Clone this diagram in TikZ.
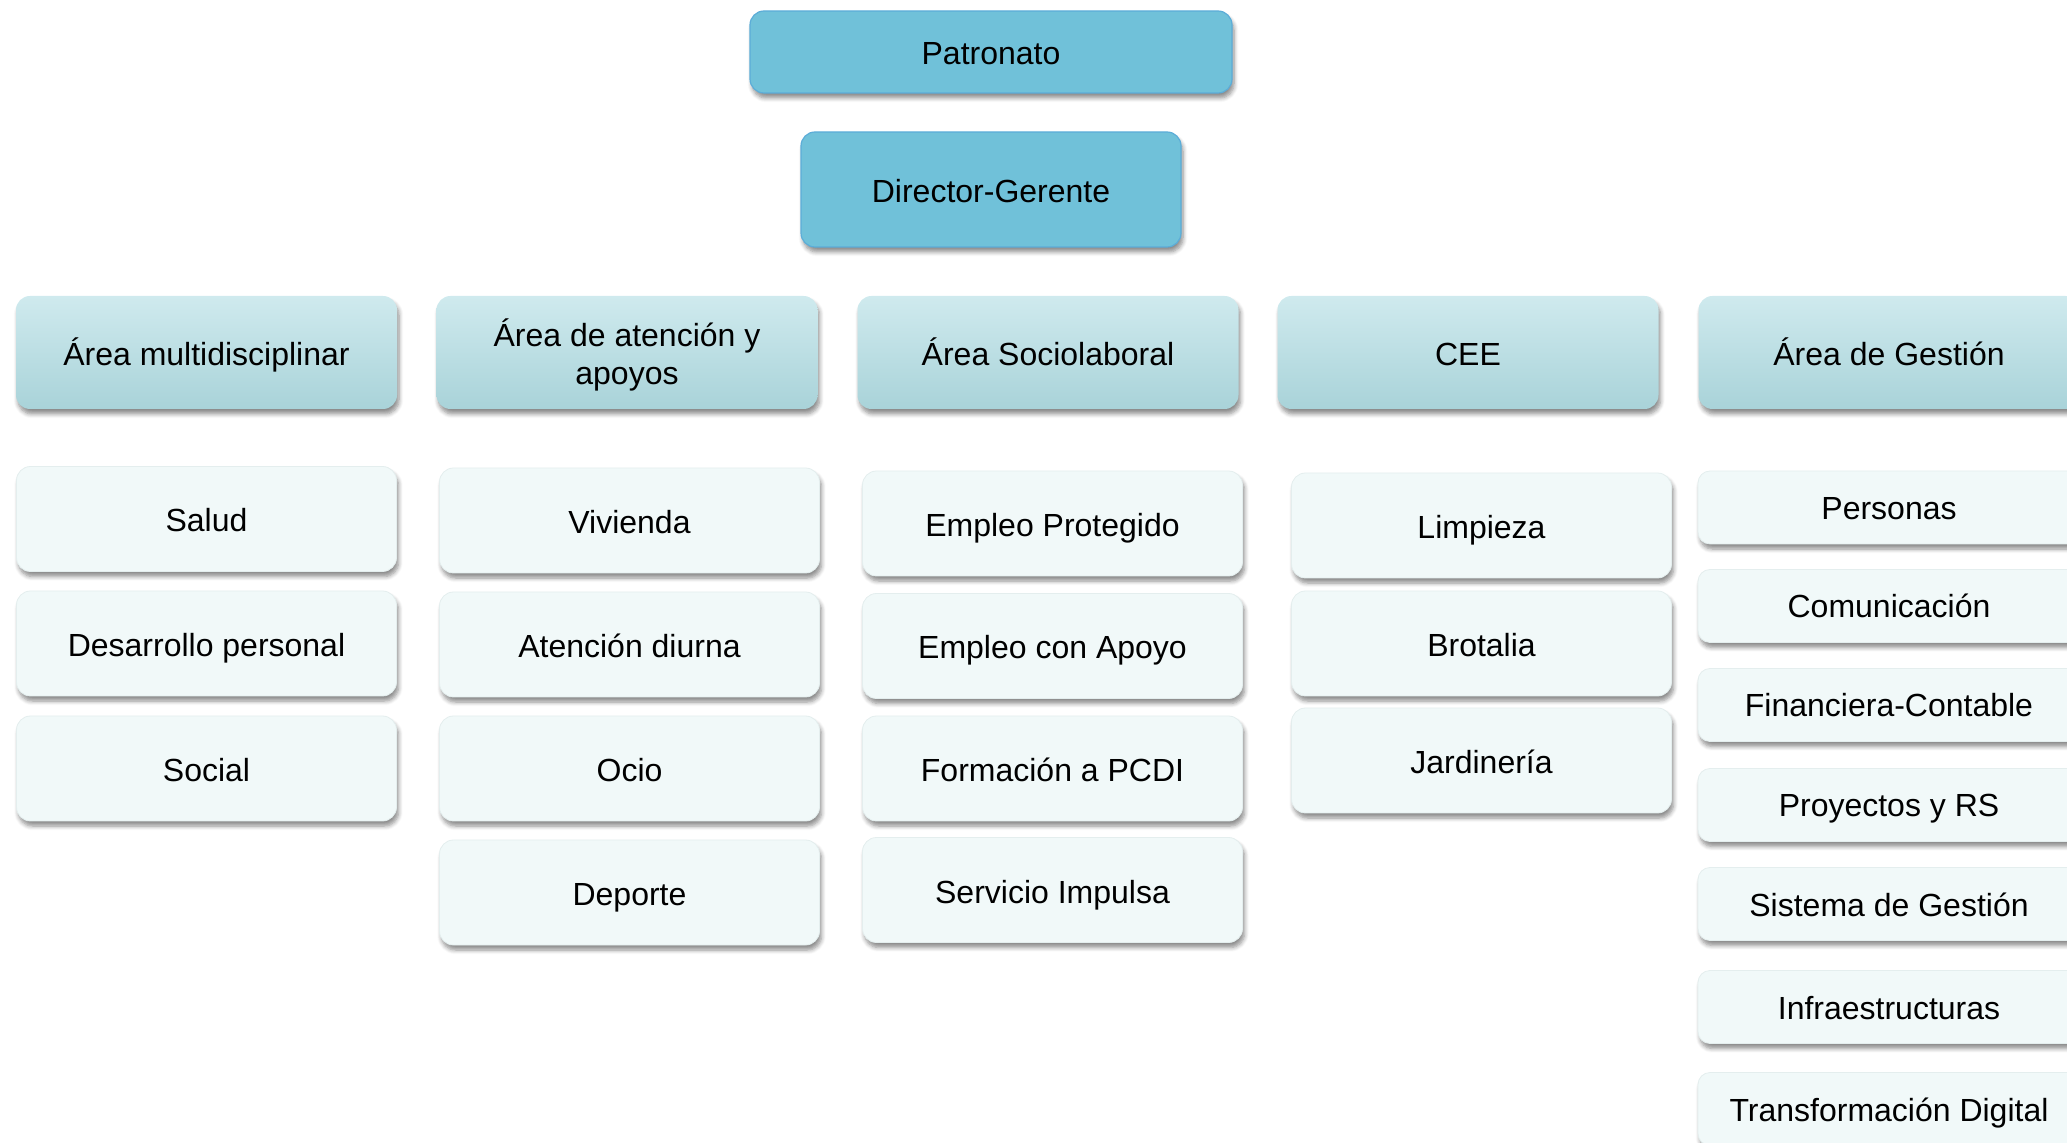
\documentclass[tikz,border=0pt]{standalone}
\usepackage{fontspec}
\setmainfont{Liberation Sans}
\usetikzlibrary{shadows.blur}
\definecolor{topblue}{HTML}{70C1D9}
\definecolor{topedge}{HTML}{5CADD8}
\definecolor{areatop}{HTML}{CFEAEE}
\definecolor{areabot}{HTML}{A9D3D9}
\definecolor{itemfill}{HTML}{F1F9F9}
\definecolor{itemedge}{HTML}{E4EEEE}
\tikzset{
  sh/.style={blur shadow={shadow xshift=1pt, shadow yshift=-2.5pt, shadow blur steps=6, shadow blur extra rounding=1pt, shadow opacity=45}},
  base/.style={rounded corners=7pt, inner sep=2pt, align=center, font=\fontsize{16}{19}\selectfont, text=black, text height=13pt, text depth=0pt, sh},
  topbox/.style={base, fill=topblue, draw=topedge, line width=0.6pt},
  areabox/.style={base, top color=areatop, bottom color=areabot, draw=none, minimum width=190.5pt, minimum height=56.5pt},
  itembox/.style={base, fill=itemfill, draw=itemedge, line width=0.4pt, minimum width=190pt, minimum height=52.5pt},
  gitem/.style={base, fill=itemfill, draw=itemedge, line width=0.4pt, minimum width=191pt, minimum height=36.5pt, rounded corners=6pt, text height=12pt},
}
\begin{document}
\begin{tikzpicture}[x=0.5pt,y=-0.5pt]
\useasboundingbox (0,0) rectangle (2067,1143);
\clip (0,0) rectangle (2067,1143);
% top
\node[topbox, minimum width=241pt, minimum height=41pt] (patronato) at (991,52) {Patronato};
\node[topbox, minimum width=190pt, minimum height=57.5pt] (director) at (991,189.5) {Director-Gerente};
% areas
\node[areabox] (a1) at (206.5,352.5) {Área multidisciplinar};
\node[areabox, text height=32pt, text depth=0pt] (a2) at (627,352.5) {Área de atención y\\apoyos};
\node[areabox] (a3) at (1048,352.5) {Área Sociolaboral};
\node[areabox] (a4) at (1468,352.5) {CEE};
\node[areabox] (a5) at (1889,352.5) {Área de Gestión};
% column 1
\node[itembox] (c11) at (206.5,519) {Salud};
\node[itembox] (c12) at (206.5,643.5) {Desarrollo personal};
\node[itembox] (c13) at (206.5,768.5) {Social};
% column 2
\node[itembox] (c21) at (629.5,520.5) {Vivienda};
\node[itembox] (c22) at (629.5,644.5) {Atención diurna};
\node[itembox] (c23) at (629.5,768.5) {Ocio};
\node[itembox] (c24) at (629.5,892.5) {Deporte};
% column 3
\node[itembox] (c31) at (1052.5,523.5) {Empleo Protegido};
\node[itembox] (c32) at (1052.5,646) {Empleo con Apoyo};
\node[itembox] (c33) at (1052.5,768.5) {Formación a PCDI};
\node[itembox] (c34) at (1052.5,890) {Servicio Impulsa};
% column 4
\node[itembox] (c41) at (1481.5,525.5) {Limpieza};
\node[itembox] (c42) at (1481.5,643.5) {Brotalia};
\node[itembox] (c43) at (1481.5,760.5) {Jardinería};
% column 5
\node[gitem] (c51) at (1889,507.5) {Personas};
\node[gitem] (c52) at (1889,606) {Comunicación};
\node[gitem] (c53) at (1889,705) {Financiera-Contable};
\node[gitem] (c54) at (1889,805) {Proyectos y RS};
\node[gitem] (c55) at (1889,904) {Sistema de Gestión};
\node[gitem] (c56) at (1889,1007) {Infraestructuras};
\node[gitem] (c57) at (1889,1109) {Transformación Digital};
\end{tikzpicture}
\end{document}
